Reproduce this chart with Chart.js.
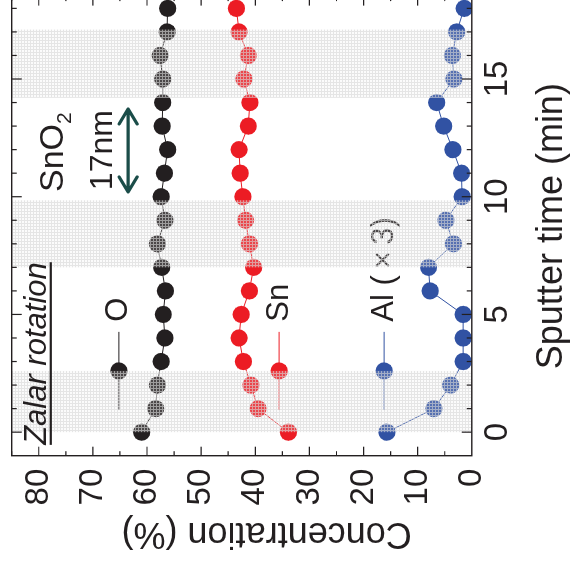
<!DOCTYPE html>
<html>
<head>
<meta charset="utf-8">
<script src="https://cdn.jsdelivr.net/npm/chart.js@4.4.0/dist/chart.umd.min.js"></script>
<style>
  html, body { margin: 0; padding: 0; background: #fff; overflow: hidden; }
  body { width: 574px; height: 575px; position: relative; }
  /* plot is laid out upright, then turned a quarter turn to the left */
  #wrap {
    position: absolute; left: 0; top: 0;
    width: 600px; height: 574px;
    transform-origin: 0 0;
    transform: translate(0, 575px) rotate(-90deg);
  }
</style>
</head>
<body>
<div id="wrap"><canvas id="depthProfile" width="600" height="574"></canvas></div>
<script>
// sputter time (min)
const sputterTime = [0, 1, 2, 3, 4, 5, 6, 7, 8, 9, 10, 11, 12, 13, 14, 15, 16, 17, 18];
// concentrations (%)
const oxygen = [61.0, 58.4, 58.1, 57.4, 56.7, 57.0, 56.6, 57.3, 58.1, 56.7, 57.4, 56.8, 56.2, 57.2, 57.1, 57.1, 57.6, 56.3, 56.2];
const tin = [33.9, 39.5, 40.8, 42.2, 43.0, 42.6, 41.1, 40.3, 41.1, 41.8, 42.3, 42.8, 43.0, 41.3, 41.0, 42.1, 41.3, 43.0, 43.5];
const aluminiumX3 = [15.7, 7.0, 3.9, 1.6, 1.6, 1.6, 7.7, 8.0, 3.4, 4.8, 1.8, 1.9, 3.5, 5.2, 6.5, 3.3, 3.6, 2.8, 1.4];
// sample rotation intervals (min)
const rotationBands = [[0, 2.6], [7.0, 9.85], [14.2, 17.1]];
const timeTicks = [0, 5, 10, 15];
const concTicks = [0, 10, 20, 30, 40, 50, 60, 70, 80];

const INK = '#231f20';
const RED = '#ec1c24';
const BLUE = '#3152a3';
const TEAL = '#1b4d49';
const FONT = "'Liberation Sans', Arial, sans-serif";

const toPoints = vals => sputterTime.map((t, i) => ({ x: t, y: vals[i] }));

function series(label, vals, color) {
  return {
    label,
    data: toPoints(vals),
    borderColor: color,
    backgroundColor: color,
    borderWidth: 1,
    pointRadius: 8.6,
    pointBorderWidth: 0,
    pointBackgroundColor: color,
    tension: 0
  };
}

// fine grey mesh laid over the rotation intervals
function meshPattern(ctx) {
  const tile = document.createElement('canvas');
  tile.width = 3; tile.height = 3;
  const g = tile.getContext('2d');
  g.fillStyle = 'rgba(235,235,235,0.2)';
  g.fillRect(0, 0, 3, 3);
  g.fillStyle = 'rgba(215,215,215,0.6)';
  g.fillRect(0, 0, 3, 1);
  g.fillRect(0, 1, 1, 2);
  return ctx.createPattern(tile, 'repeat');
}

// no label overhang: the plot box sits exactly where the layout puts it
function noOverhang(s) {
  s.paddingTop = 0; s.paddingBottom = 0;
  s.paddingLeft = 0; s.paddingRight = 0;
}

const legendAt = [65.2, 35.6, 16.2];

const overlays = {
  id: 'overlays',
  afterDatasetsDraw(chart) {
    const { ctx, chartArea: a, scales: { x, y } } = chart;
    ctx.save();
    // in-plot legend: short line, marker, name
    chart.data.datasets.forEach((ds, i) => {
      const py = y.getPixelForValue(legendAt[i]);
      ctx.strokeStyle = ds.borderColor;
      ctx.lineWidth = 1;
      ctx.beginPath();
      ctx.moveTo(x.getPixelForValue(0.94), py);
      ctx.lineTo(x.getPixelForValue(4.26), py);
      ctx.stroke();
      ctx.fillStyle = ds.borderColor;
      ctx.beginPath();
      ctx.arc(x.getPixelForValue(2.6), py, 8.6, 0, Math.PI * 2);
      ctx.fill();
      ctx.fillStyle = INK;
      ctx.font = '31px ' + FONT;
      ctx.textAlign = 'left';
      ctx.textBaseline = 'middle';
      ctx.fillText(ds.label, x.getPixelForValue(4.69), py);
    });
    // rotation intervals
    ctx.fillStyle = meshPattern(ctx);
    rotationBands.forEach(([t0, t1]) => {
      const x0 = x.getPixelForValue(t0), x1 = x.getPixelForValue(t1);
      ctx.fillRect(x0, a.top, x1 - x0, a.bottom - a.top);
    });
    ctx.restore();
  },
  afterDraw(chart) {
    const { ctx, chartArea: a, scales: { x, y } } = chart;
    ctx.save();
    ctx.strokeStyle = INK;
    ctx.lineWidth = 1.4;
    ctx.strokeRect(a.left, a.top, a.right - a.left, a.bottom - a.top);
    // inward ticks on all four sides
    ctx.lineWidth = 1.2;
    ctx.beginPath();
    for (let t = 0; t <= x.max; t++) {
      const px = x.getPixelForValue(t);
      const len = t % 5 === 0 ? 10 : 5;
      ctx.moveTo(px, a.bottom); ctx.lineTo(px, a.bottom - len);
      ctx.moveTo(px, a.top); ctx.lineTo(px, a.top + len);
    }
    for (let v = 5; v <= y.max; v += 5) {
      const py = y.getPixelForValue(v);
      const len = v % 10 === 0 ? 9 : 4.5;
      ctx.moveTo(a.left, py); ctx.lineTo(a.left + len, py);
      ctx.moveTo(a.right, py); ctx.lineTo(a.right - len, py);
    }
    ctx.stroke();

    // concentration axis title
    ctx.fillStyle = INK;
    ctx.save();
    ctx.translate(41.6, y.getPixelForValue(37.9));
    ctx.rotate(-Math.PI / 2);
    ctx.font = '36px ' + FONT;
    ctx.textAlign = 'center';
    ctx.textBaseline = 'middle';
    ctx.fillText('Concentration (%)', 0, 0);
    ctx.restore();

    // method note, underlined
    ctx.textAlign = 'left';
    ctx.textBaseline = 'alphabetic';
    ctx.font = 'italic 31px ' + FONT;
    const zx = x.getPixelForValue(-0.54), zy = y.getPixelForValue(78.6);
    ctx.fillText('Zalar rotation', zx, zy);
    const zw = ctx.measureText('Zalar rotation').width;
    ctx.fillRect(zx, y.getPixelForValue(77.8) - 1, zw, 2.2);

    // layer label and thickness
    ctx.font = '34px ' + FONT;
    const sx = x.getPixelForValue(10.2), sy = y.getPixelForValue(75.6);
    ctx.fillText('SnO', sx, sy);
    const sw = ctx.measureText('SnO').width;
    ctx.font = '21px ' + FONT;
    ctx.fillText('2', sx + sw, sy + 8);
    ctx.font = '32px ' + FONT;
    ctx.fillText('17nm', x.getPixelForValue(10.28), y.getPixelForValue(66.5));

    // double-headed arrow
    const ay = y.getPixelForValue(63.5);
    const ax0 = x.getPixelForValue(10.16), ax1 = x.getPixelForValue(13.77);
    ctx.strokeStyle = TEAL;
    ctx.lineWidth = 3.2;
    ctx.lineCap = 'round';
    ctx.lineJoin = 'round';
    ctx.beginPath();
    ctx.moveTo(ax0 + 1, ay); ctx.lineTo(ax1 - 1, ay);
    ctx.moveTo(ax0 + 16, ay - 9); ctx.lineTo(ax0 + 1, ay); ctx.lineTo(ax0 + 16, ay + 9);
    ctx.moveTo(ax1 - 16, ay - 9); ctx.lineTo(ax1 - 1, ay); ctx.lineTo(ax1 - 16, ay + 9);
    ctx.stroke();
    ctx.restore();
  }
};

new Chart(document.getElementById('depthProfile'), {
  type: 'line',
  data: {
    datasets: [
      series('O', oxygen, INK),
      series('Sn', tin, RED),
      series('Al (\u2009×\u20093)', aluminiumX3, BLUE)
    ]
  },
  options: {
    responsive: false,
    animation: false,
    layout: { padding: { top: 11.7, right: 21.6, left: 0, bottom: 0 } },
    plugins: { legend: { display: false }, tooltip: { enabled: false } },
    scales: {
      x: {
        type: 'linear',
        min: -1,
        max: 18.5,
        afterFit: s => { s.height = 102.2; noOverhang(s); },
        afterBuildTicks: s => { s.ticks = timeTicks.map(v => ({ value: v })); },
        border: { display: false },
        grid: { display: false, drawTicks: false },
        ticks: { padding: 6, color: INK, font: { family: FONT, size: 33 } },
        title: { display: true, text: 'Sputter time (min)', color: INK, padding: 0, font: { family: FONT, size: 36 } }
      },
      y: {
        min: 0,
        max: 85,
        afterFit: s => { s.width = 119.3; noOverhang(s); },
        afterBuildTicks: s => { s.ticks = concTicks.map(v => ({ value: v })); },
        border: { display: false },
        grid: { display: false, drawTicks: false },
        ticks: { padding: 13, color: INK, font: { family: FONT, size: 33 } },
        title: { display: false }
      }
    }
  },
  plugins: [overlays]
});
</script>
</body>
</html>
